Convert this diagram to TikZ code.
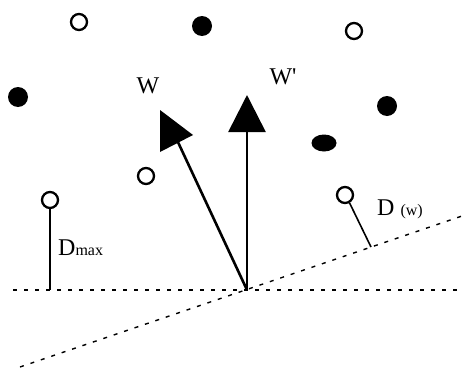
\documentclass[tikz,border=0pt]{standalone}
\usepackage{fontspec}
\setmainfont{Liberation Serif}
\usetikzlibrary{arrows.meta,shapes.geometric}
\begin{document}
\begin{tikzpicture}[x=1pt,y=-1pt,
  opendot/.style={circle,draw=black,line width=2.3pt,fill=white,minimum size=16pt,inner sep=0pt},
  filldot/.style={circle,fill=black,minimum size=20pt,inner sep=0pt},
  stem/.style={line width=1.6pt},
  guide/.style={line width=1.4pt,dash pattern=on 4pt off 7pt},
  vec/.style={line width=2.6pt},
  lbl/.style={inner sep=0pt,font=\fontsize{24}{24}\selectfont}
]
\useasboundingbox (0,0) rectangle (463,372);
% dots
\node[opendot] (o1) at (79,22) {};
\node[filldot] (f1) at (202,26) {};
\node[opendot] (o2) at (354,31) {};
\node[filldot] (f2) at (18,97) {};
\node[filldot] (f3) at (387,106) {};
\node[ellipse,fill=black,minimum width=25pt,minimum height=17pt,inner sep=0pt] (f4) at (324,143) {};
\node[opendot] (o3) at (146,176) {};
\node[opendot] (o4) at (50,200) {};
\node[opendot] (o5) at (345,195) {};
% guide lines
\coordinate (O) at (247,290);
\coordinate (hl) at (13,290);
\coordinate (hr) at (463,290);
\coordinate (sl) at (20,367);
\coordinate (sr) at (462,216);
\draw[guide] (hl) -- (hr);
\draw[guide] (sl) -- (sr);
% distance stems
\coordinate (dm) at (50,290);
\coordinate (dw) at (371,247);
\draw[stem] (o4.south) -- (dm);
\draw[stem] (o5.-60) -- (dw);
% vectors
\coordinate (wp) at (247,95);
\draw[vec,-{Triangle[length=37pt,width=37pt]}] (O) -- (wp);
\coordinate (wt) at (160,110);
\coordinate (wa) at (193,135);
\coordinate (wb) at (160,152);
\coordinate (wm) at (177,140);
\draw[vec] (O) -- (wm);
\fill (wt) -- (wa) -- (wb) -- cycle;
% labels
\node[lbl] (lw) at (148,86) {W};
\node[lbl] (lwp) at (283,77) {W\textquotesingle};
\node[lbl,anchor=base west] (ldm) at (58,255) {D\fontsize{16}{16}\selectfont max};
\node[lbl,anchor=base west] (ldw) at (377,215) {D \fontsize{16}{16}\selectfont(w)};
\end{tikzpicture}
\end{document}
